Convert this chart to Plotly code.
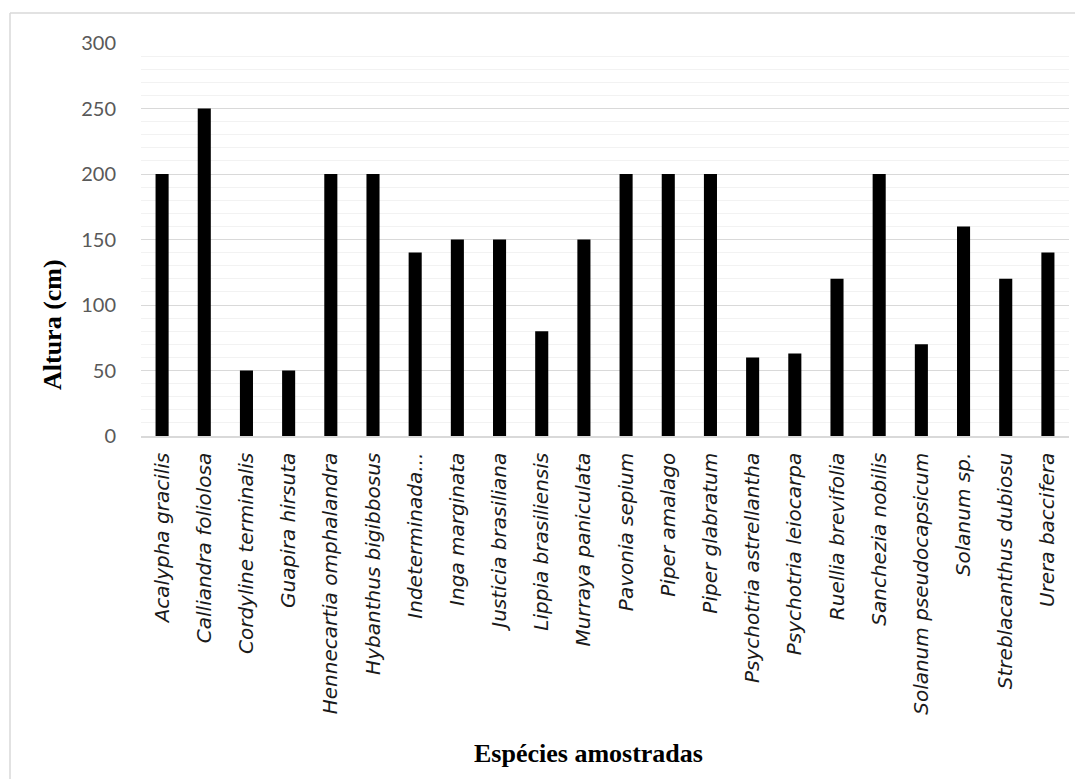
import plotly.graph_objects as go

species = [
    "Acalypha gracilis", "Calliandra foliolosa", "Cordyline terminalis", "Guapira hirsuta",
    "Hennecartia omphalandra", "Hybanthus bigibbosus", "Indeterminada...", "Inga marginata",
    "Justicia brasiliana", "Lippia brasiliensis", "Murraya paniculata", "Pavonia sepium",
    "Piper amalago", "Piper glabratum", "Psychotria astrellantha", "Psychotria leiocarpa",
    "Ruellia brevifolia", "Sanchezia nobilis", "Solanum pseudocapsicum", "Solanum sp.",
    "Streblacanthus dubiosu", "Urera baccifera",
]
altura = [200, 250, 50, 50, 200, 200, 140, 150, 150, 80, 150, 200,
          200, 200, 60, 63, 120, 200, 70, 160, 120, 140]
y_ticks = [0, 50, 100, 150, 200, 250, 300]

# page is offset by the default 8px body margin
OFF = 8
PW, PH = 1083, 779
W, H = PW - OFF, PH - OFF
L, R, T, B = 141 - OFF, 14, 43 - OFF, 779 - 436
pw, ph = W - L - R, H - T - B

def px(x):  # page x -> paper
    return (x - OFF - L) / pw

def py(y):  # page y -> paper
    return (H - B - (y - OFF)) / ph

fig = go.Figure(go.Bar(
    x=species, y=altura,
    marker=dict(color="black", line=dict(width=0)),
))

fig.update_layout(
    width=W, height=H,
    margin=dict(l=L, r=R, t=T, b=B),
    paper_bgcolor="white", plot_bgcolor="white",
    bargap=0.69,
    showlegend=False,
    font=dict(family="Lato", color="#595959"),
)
fig.update_yaxes(
    range=[0, 300], tickvals=y_ticks,
    showgrid=True, gridcolor="#d9d9d9", gridwidth=1,
    minor=dict(dtick=10, showgrid=True, gridcolor="#f2f2f2", gridwidth=1),
    zeroline=False, showline=False,
    ticks="outside", ticklen=20, tickcolor="rgba(0,0,0,0)",
    tickfont=dict(family="Lato", size=20, color="#595959"),
)
fig.update_xaxes(
    tickangle=-90,
    tickfont=dict(family="DejaVu Sans", size=20, color="#1a1a1a", style="italic"),
    showline=True, linecolor="#d9d9d9", linewidth=1.5,
    ticks="outside", ticklen=7, tickcolor="rgba(0,0,0,0)",
    showgrid=False,
)

fig.add_annotation(
    text="<b>Altura (cm)</b>", textangle=-90,
    xref="paper", yref="paper", x=px(52), y=py(325),
    xanchor="center", yanchor="middle", showarrow=False,
    font=dict(family="Liberation Serif", size=26, color="black"),
)
fig.add_annotation(
    text="<b>Espécies amostradas</b>",
    xref="paper", yref="paper", x=px(588), y=py(753),
    xanchor="center", yanchor="middle", showarrow=False,
    font=dict(family="Liberation Serif", size=26, color="black"),
)

# outer chart border (left and top visible)
fig.add_shape(type="line", xref="paper", yref="paper",
              x0=px(10), x1=px(10), y0=py(800), y1=py(13),
              line=dict(color="#d9d9d9", width=1.5))
fig.add_shape(type="line", xref="paper", yref="paper",
              x0=px(10), x1=px(1100), y0=py(13), y1=py(13),
              line=dict(color="#d9d9d9", width=1.5))

fig.write_html("out.html")
